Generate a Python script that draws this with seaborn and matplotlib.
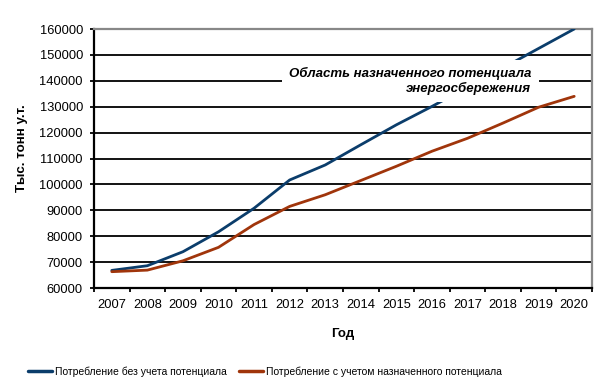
import numpy as np
import pandas as pd
import matplotlib
matplotlib.use("Agg")
import matplotlib.pyplot as plt
import seaborn as sns

# Data
years = [2007, 2008, 2009, 2010, 2011, 2012, 2013, 2014, 2015, 2016, 2017, 2018, 2019, 2020]
no_potential = [66800, 68600, 74000, 81700, 90800, 101700, 107500, 115300, 123000, 130100,
                137500, 145000, 152500, 160000]
with_potential = [66300, 66900, 70500, 75700, 84500, 91500, 96000, 101500, 107000, 112800,
                  117800, 123700, 129800, 134000]

series_names = ["Потребление без учета потенциала",
                "Потребление с учетом назначенного потенциала"]
colors = ["#0b3d6b", "#a0350b"]

df = pd.DataFrame({
    "Год": years * 2,
    "value": no_potential + with_potential,
    "series": [series_names[0]] * len(years) + [series_names[1]] * len(years),
})

sns.set_style("white")
plt.rcParams["font.family"] = ["Liberation Sans", "DejaVu Sans"]
plt.rcParams["text.color"] = "black"
plt.rcParams["axes.labelcolor"] = "black"
plt.rcParams["xtick.color"] = "black"
plt.rcParams["ytick.color"] = "black"

fig = plt.figure(figsize=(6.06, 3.91), dpi=100)
ax = fig.add_axes([94 / 606, 1 - 288 / 391, 498 / 606, 259 / 391])

sns.lineplot(data=df, x="Год", y="value", hue="series", palette=colors,
             linewidth=2.0, ax=ax, legend=False, zorder=3)

# axes range and ticks (category-style x axis)
ax.set_xlim(years[0] - 0.5, years[-1] + 0.5)
ax.set_ylim(60000, 160000)
ax.set_yticks(np.arange(60000, 160001, 10000))
ax.set_xticks(np.arange(years[0] - 0.5, years[-1] + 1, 1.0))
ax.set_xticklabels([])
ax.set_xticks(years, minor=True)
ax.set_xticklabels([str(y) for y in years], minor=True)
ax.tick_params(axis="x", which="major", direction="out", length=3, width=1.3,
               color="black", bottom=True)
ax.tick_params(axis="x", which="minor", length=0, pad=8, labelsize=9.3)
ax.tick_params(axis="y", direction="out", length=3, width=1.3, color="black",
               left=True, pad=5, labelsize=9.3)

ax.grid(axis="y", color="black", linewidth=1.3, zorder=1)
ax.set_axisbelow(True)

for side in ["left", "bottom"]:
    ax.spines[side].set_color("black")
    ax.spines[side].set_linewidth(1.6)
for side in ["top", "right"]:
    ax.spines[side].set_color("#888888")
    ax.spines[side].set_linewidth(1.6)

ax.set_xlabel("Год", fontsize=9.5, fontweight="bold", labelpad=12)
ax.set_ylabel("Тыс. тонн у.т.", fontsize=9.6, fontweight="bold")
ax.yaxis.set_label_coords(-0.133, 0.54)

# annotation over the lines
ax.text(0.878, 0.80, "Область назначенного потенциала\nэнергосбережения",
        transform=ax.transAxes, ha="right", va="center", multialignment="right",
        fontsize=9.5, fontweight="bold", fontstyle="italic", zorder=5,
        bbox=dict(facecolor="white", edgecolor="none", boxstyle="square,pad=0.55"))

# legend below the chart
handles = [plt.Line2D([0], [0], color=c, linewidth=2.5) for c in colors]
fig.legend(handles, series_names, loc="center", bbox_to_anchor=(0.437, 0.049),
           ncol=2, frameon=False, fontsize=7.5, handlelength=2.3, handletextpad=0.3,
           columnspacing=1.15)

fig.savefig("out.png", dpi=100)
